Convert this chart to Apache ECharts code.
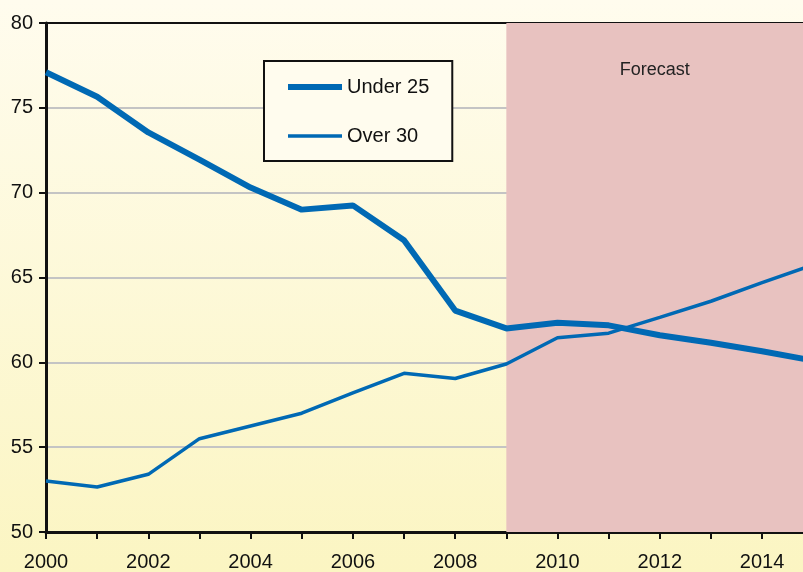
<!DOCTYPE html>
<html>
<head>
<meta charset="utf-8">
<script src="https://cdn.jsdelivr.net/npm/echarts@6/dist/echarts.min.js"></script>
<style>
  html, body { margin: 0; padding: 0; }
  #demo { width: 803px; height: 572px; }
</style>
</head>
<body>
<div id="demo"></div>
<script>
// 数据：年份和两条线
var years = [2000, 2001, 2002, 2003, 2004, 2005, 2006, 2007, 2008, 2009, 2010, 2011, 2012, 2013, 2014, 2015];
var under25 = [77.1, 75.65, 73.55, 71.95, 70.3, 69.0, 69.25, 67.2, 63.05, 62.0, 62.33, 62.18, 61.6, 61.15, 60.65, 60.1];
var over30 = [53.0, 52.65, 53.4, 55.5, 56.25, 57.0, 58.2, 59.35, 59.05, 59.9, 61.45, 61.72, 62.65, 63.6, 64.7, 65.75];
var tickYears = [2000, 2001, 2002, 2003, 2004, 2005, 2006, 2007, 2008, 2009, 2010, 2011, 2012, 2013, 2014];
var labelYears = [2000, 2002, 2004, 2006, 2008, 2010, 2012, 2014];
var forecastStart = 2009;

function pairs(ys) {
    var out = [];
    for (var i = 0; i < years.length; i++) {
        out.push([years[i], ys[i]]);
    }
    return out;
}

var chartDom = document.getElementById('demo');
var myChart = echarts.init(chartDom);
var blue = '#0069b4';
var option = {
    animation: false,
    backgroundColor: new echarts.graphic.LinearGradient(0, 0, 0, 1, [
        { offset: 0, color: '#fffcee' },
        { offset: 1, color: '#fbf5c2' }
    ]),
    textStyle: { fontFamily: 'Liberation Sans, Arial, sans-serif' },
    grid: { left: 46, right: 0, top: 23, bottom: 39 },
    legend: {
        data: [
            { name: 'Under 25', lineStyle: { width: 6 }, itemStyle: { opacity: 0 } },
            { name: 'Over 30', lineStyle: { width: 3.5 }, itemStyle: { opacity: 0 } }
        ],
        orient: 'vertical',
        left: 264,
        top: 61,
        padding: [16, 23, 15, 21],
        itemWidth: 54,
        itemHeight: 20,
        itemGap: 29,
        backgroundColor: '#fffcee',
        borderColor: '#111',
        borderWidth: 2,
        textStyle: { fontSize: 20, color: '#111' }
    },
    xAxis: [{
        type: 'value',
        min: 2000,
        max: 2014.8,
        interval: 1,
        axisLine: { lineStyle: { color: '#111', width: 3 } },
        axisTick: { show: true, length: 7, lineStyle: { color: '#111', width: 2 }, customValues: tickYears },
        axisLabel: { fontSize: 20, color: '#111', margin: 20, customValues: labelYears, formatter: function (v) { return String(v); } },
        splitLine: { show: false }
    }, {
        type: 'value',
        position: 'top',
        min: 2000,
        max: 2014.8,
        axisLine: { show: true, lineStyle: { color: '#111', width: 2 } },
        axisTick: { show: false },
        axisLabel: { show: false },
        splitLine: { show: false }
    }],
    yAxis: {
        type: 'value',
        min: 50,
        max: 80,
        interval: 5,
        axisLine: { show: true, lineStyle: { color: '#111', width: 3 } },
        axisTick: { show: true, length: 7, lineStyle: { color: '#111', width: 2 } },
        axisLabel: { fontSize: 20, color: '#111', margin: 13 },
        splitLine: { show: true, lineStyle: { color: '#c4c4c4', width: 2 } }
    },
    series: [
        {
            // 预测区域，放在网格线下面
            name: 'forecast',
            type: 'line',
            z: -1,
            data: [],
            markArea: {
                silent: true,
                itemStyle: { color: '#e8c2c0' },
                label: { show: true, position: 'insideTop', distance: 38, fontSize: 18, color: '#222' },
                data: [[{ name: 'Forecast', xAxis: forecastStart }, { xAxis: 2014.8 }]]
            }
        },
        {
            name: 'Under 25',
            type: 'line',
            symbol: 'none',
            data: pairs(under25),
            lineStyle: { color: blue, width: 6 },
            itemStyle: { color: blue }
        },
        {
            name: 'Over 30',
            type: 'line',
            symbol: 'none',
            data: pairs(over30),
            lineStyle: { color: blue, width: 3.5 },
            itemStyle: { color: blue }
        }
    ]
};
option && myChart.setOption(option);
</script>
</body>
</html>
